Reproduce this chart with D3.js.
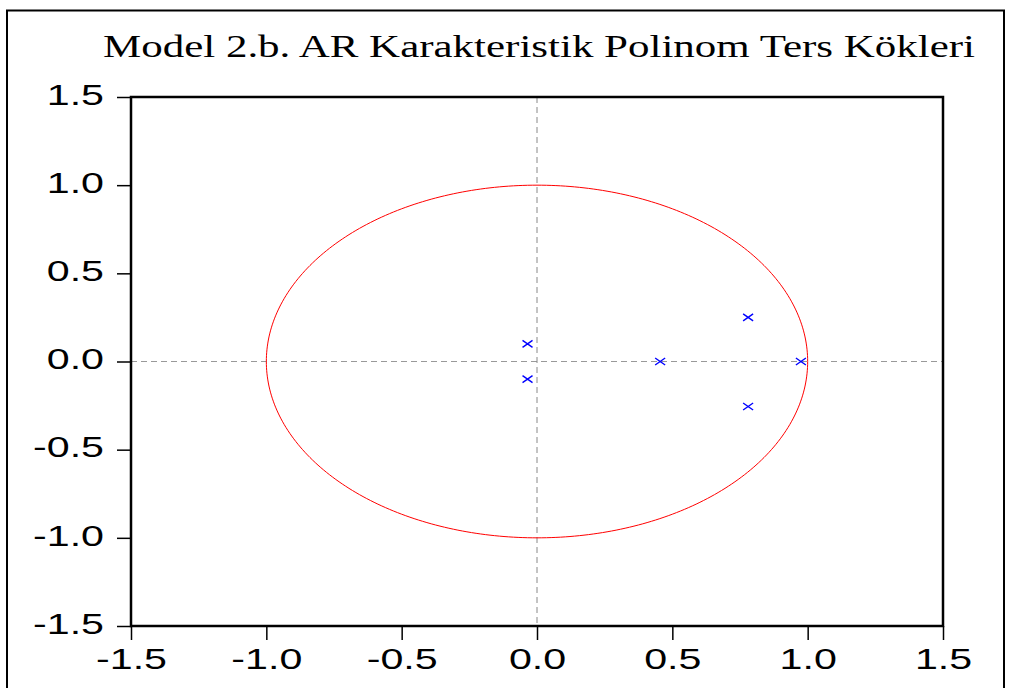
<!DOCTYPE html>
<html><head><meta charset="utf-8">
<script src="https://cdn.jsdelivr.net/npm/d3@7"></script>
<style>body{margin:0;background:#fff}svg{display:block}</style>
</head><body>
<svg id="c" width="1009" height="688"></svg>
<script>
const title = "Model 2.b. AR Karakteristik Polinom Ters Kökleri";
const xTicks = [-1.5, -1.0, -0.5, 0.0, 0.5, 1.0, 1.5];
const yTicks = [-1.5, -1.0, -0.5, 0.0, 0.5, 1.0, 1.5];
const rootRe = [-0.035, -0.035, 0.455, 0.78, 0.78, 0.975];
const rootIm = [0.10, -0.10, 0.0, 0.25, -0.255, 0.0];

const svg = d3.select("#c");
const L = 131, R = 943, T = 97, B = 626;
const x = d3.scaleLinear().domain([-1.5, 1.5]).range([L, R]);
const y = d3.scaleLinear().domain([-1.5, 1.5]).range([B, T]);

// outer frame
svg.append("path").attr("d", "M7,688 V10.5 H1004 V688")
  .attr("fill", "none").attr("stroke", "#000").attr("stroke-width", 2);

// title
svg.append("text").attr("x", 103).attr("y", 57)
  .attr("font-family", "Liberation Serif, Times New Roman, serif")
  .attr("font-size", 32).attr("textLength", 872).attr("lengthAdjust", "spacingAndGlyphs")
  .text(title);

// zero lines
svg.append("line").attr("x1", L).attr("x2", R).attr("y1", y(0)).attr("y2", y(0))
  .attr("stroke", "#999").attr("stroke-width", 1).attr("stroke-dasharray", "6,4");
svg.append("line").attr("x1", x(0)).attr("x2", x(0)).attr("y1", T).attr("y2", B)
  .attr("stroke", "#888").attr("stroke-width", 1).attr("stroke-dasharray", "6,4");

// unit circle
const ang = d3.range(0, 361, 1).map(d => d * Math.PI / 180);
svg.append("path")
  .attr("d", d3.line().x(a => x(Math.cos(a))).y(a => y(Math.sin(a)))(ang))
  .attr("fill", "none").attr("stroke", "#f00").attr("stroke-width", 1);

// roots
const g = svg.append("g");
rootRe.forEach((re, i) => {
  const cx = x(re), cy = y(rootIm[i]);
  g.append("path").attr("d", `M${cx-5},${cy-3.5}L${cx+5},${cy+3.5}M${cx-5},${cy+3.5}L${cx+5},${cy-3.5}`)
    .attr("stroke", "#00f").attr("stroke-width", 1.4).attr("fill", "none");
});

// plot frame
svg.append("rect").attr("x", L).attr("y", T).attr("width", R - L).attr("height", B - T)
  .attr("fill", "none").attr("stroke", "#000").attr("stroke-width", 2.5);

const fmt = v => d3.format(".1f")(v).replace("\u2212", "-");
const sx = 1.42;
const ya = svg.append("g").attr("transform", `translate(${L},0)`)
  .call(d3.axisLeft(y).tickValues(yTicks).tickFormat(fmt).tickSize(14).tickSizeOuter(0));
ya.select(".domain").remove();
ya.selectAll("line").attr("stroke", "#000").attr("stroke-width", 1.5);
ya.selectAll("text").attr("font-family", "Liberation Sans, Arial, sans-serif").attr("font-size", 29)
  .attr("fill", "#000").attr("x", -27 / sx).attr("dy", "0.32em").attr("y", -2)
  .attr("transform", `scale(${sx},1)`);

const xa = svg.append("g").attr("transform", `translate(0,${B})`)
  .call(d3.axisBottom(x).tickValues(xTicks).tickFormat(fmt).tickSize(14).tickSizeOuter(0));
xa.select(".domain").remove();
xa.selectAll("line").attr("stroke", "#000").attr("stroke-width", 1.5);
xa.selectAll("text").attr("font-family", "Liberation Sans, Arial, sans-serif").attr("font-size", 29)
  .attr("fill", "#000").attr("y", 43).attr("dy", "0")
  .attr("transform", `scale(${sx},1)`);
svg.selectAll(".tick").attr("font-family", null);
</script>
</body></html>
